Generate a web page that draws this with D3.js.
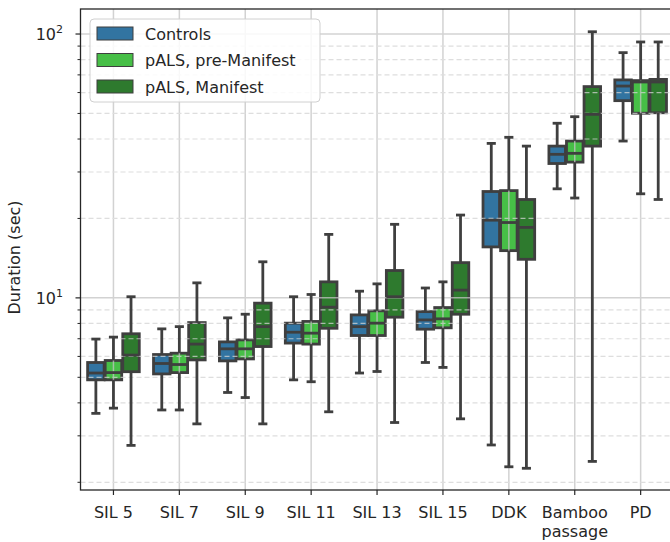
<!DOCTYPE html>
<meta charset="utf-8">
<script src="https://d3js.org/d3.v7.min.js"></script>
<style>
  body { margin: 0; background: #fff; }
  text { font-family: "DejaVu Sans", sans-serif; fill: #262626; }
</style>
<div id="chart"></div>
<script>
  // categories and groups
  const categories = ["SIL 5", "SIL 7", "SIL 9", "SIL 11", "SIL 13", "SIL 15", "DDK", "Bamboo passage", "PD"];
  const groups = ["Controls", "pALS, pre-Manifest", "pALS, Manifest"];
  const groupColors = ["#3274a1", "#47bf47", "#2e7a2e"];

  // box stats per category: [whisker low, q1, median, q3, whisker high]
  const controlsStats = [
    [3.65, 4.89, 5.19, 5.69, 6.98],
    [3.76, 5.15, 5.64, 6.10, 7.63],
    [4.38, 5.77, 6.41, 6.81, 8.40],
    [4.89, 6.74, 7.41, 8.02, 10.1],
    [5.19, 7.20, 7.78, 8.62, 10.6],
    [5.69, 7.61, 8.25, 8.87, 10.9],
    [2.77, 15.6, 19.7, 25.3, 38.5],
    [25.9, 32.3, 35.0, 37.6, 45.9],
    [39.3, 55.9, 63.5, 67.0, 85.0]
  ];
  const preManifestStats = [
    [3.82, 4.89, 5.21, 5.79, 7.10],
    [3.76, 5.21, 5.59, 6.17, 7.78],
    [4.19, 5.87, 6.41, 6.93, 8.67],
    [4.81, 6.68, 7.35, 8.14, 10.3],
    [5.26, 7.20, 8.02, 8.93, 11.3],
    [5.45, 7.70, 8.33, 9.19, 11.5],
    [2.29, 15.1, 19.3, 25.5, 40.6],
    [23.9, 32.7, 35.3, 39.3, 48.6],
    [24.8, 50.1, 65.8, 66.6, 93.3]
  ];
  const manifestStats = [
    [2.76, 5.25, 6.07, 7.31, 10.1],
    [3.33, 5.82, 6.68, 8.06, 11.4],
    [3.33, 6.54, 7.78, 9.55, 13.7],
    [3.70, 7.67, 9.22, 11.5, 17.4],
    [3.37, 8.45, 10.1, 12.7, 19.0],
    [3.48, 8.67, 10.7, 13.6, 20.6],
    [2.26, 14.0, 18.5, 23.6, 37.6],
    [2.40, 37.6, 49.6, 63.2, 102],
    [23.6, 50.3, 65.8, 67.3, 93.3]
  ];
  const allStats = [controlsStats, preManifestStats, manifestStats];

  const yDomain = [1.87, 124.4];
  const majorTicks = [10, 100];
  const minorTicks = [2, 3, 4, 5, 6, 7, 8, 9, 20, 30, 40, 50, 60, 70, 80, 90];

  const W = 670, H = 542;
  const pLeft = 80.5, pRight = 673.6, pTop = 9, pBottom = 490;
  const lineCol = "#3f3f3f";

  const svg = d3.select("#chart").append("svg")
    .attr("width", W).attr("height", H);

  const x = d3.scaleBand().domain(categories).range([pLeft, pRight]).padding(0);
  const y = d3.scaleLog().domain(yDomain).range([pBottom, pTop]);

  const step = x.bandwidth();
  const slot = step * 0.8 / 3;
  const boxW = slot * 0.94;
  const capW = boxW * 0.55;
  const cxOf = (gi, ci) => x(categories[ci]) + step / 2 + (gi - 1) * slot;

  // box faces (below grid, like matplotlib patches)
  const faces = svg.append("g");
  allStats.forEach(function (stats, gi) {
    stats.forEach(function (s, ci) {
      const cx = cxOf(gi, ci);
      faces.append("rect").attr("x", cx - boxW / 2).attr("width", boxW)
        .attr("y", y(s[3])).attr("height", y(s[1]) - y(s[3]))
        .attr("fill", groupColors[gi]).attr("stroke", lineCol).attr("stroke-width", 2.8);
    });
  });

  // grid
  const grid = svg.append("g").attr("opacity", 0.75);
  grid.selectAll(".vg").data(categories).join("line")
    .attr("x1", d => x(d) + step / 2).attr("x2", d => x(d) + step / 2)
    .attr("y1", pTop).attr("y2", pBottom)
    .attr("stroke", "#c4c4c4").attr("stroke-width", 1.5);
  grid.selectAll(".hg").data(majorTicks).join("line")
    .attr("x1", pLeft).attr("x2", pRight).attr("y1", d => y(d)).attr("y2", d => y(d))
    .attr("stroke", "#c4c4c4").attr("stroke-width", 1.5);
  grid.selectAll(".mg").data(minorTicks).join("line")
    .attr("x1", pLeft).attr("x2", pRight).attr("y1", d => y(d)).attr("y2", d => y(d))
    .attr("stroke", "#d4d4d4").attr("stroke-width", 1.2).attr("stroke-dasharray", "5,3");

  // whiskers, caps, medians (above grid)
  const lines = svg.append("g").attr("stroke", lineCol).attr("stroke-width", 2.8);
  allStats.forEach(function (stats, gi) {
    stats.forEach(function (s, ci) {
      const cx = cxOf(gi, ci);
      lines.append("line").attr("x1", cx).attr("x2", cx).attr("y1", y(s[0])).attr("y2", y(s[1]));
      lines.append("line").attr("x1", cx).attr("x2", cx).attr("y1", y(s[3])).attr("y2", y(s[4]));
      [s[0], s[4]].forEach(function (v) {
        lines.append("line").attr("x1", cx - capW / 2).attr("x2", cx + capW / 2)
          .attr("y1", y(v)).attr("y2", y(v));
      });
      lines.append("line").attr("x1", cx - boxW / 2).attr("x2", cx + boxW / 2)
        .attr("y1", y(s[2])).attr("y2", y(s[2]));
    });
  });

  // frame
  svg.append("rect").attr("x", pLeft).attr("y", pTop)
    .attr("width", pRight - pLeft).attr("height", pBottom - pTop)
    .attr("fill", "none").attr("stroke", "#262626").attr("stroke-width", 1.3);

  // y ticks
  svg.selectAll(".ymaj").data(majorTicks).join("line")
    .attr("x1", pLeft - 5).attr("x2", pLeft).attr("y1", d => y(d)).attr("y2", d => y(d))
    .attr("stroke", "#262626").attr("stroke-width", 1.2);
  svg.selectAll(".ymin").data(minorTicks).join("line")
    .attr("x1", pLeft - 3).attr("x2", pLeft).attr("y1", d => y(d)).attr("y2", d => y(d))
    .attr("stroke", "#262626").attr("stroke-width", 1);
  majorTicks.forEach(function (v) {
    const t = svg.append("text").attr("x", 63).attr("y", y(v) + 6)
      .attr("text-anchor", "end").style("font-size", "16px");
    t.append("tspan").text("10");
    t.append("tspan").attr("dy", -7).style("font-size", "11px").text(Math.round(Math.log10(v)));
  });

  // x ticks
  svg.selectAll(".xt").data(categories).join("line")
    .attr("x1", d => x(d) + step / 2).attr("x2", d => x(d) + step / 2)
    .attr("y1", pBottom).attr("y2", pBottom + 5)
    .attr("stroke", "#262626").attr("stroke-width", 1.2);
  categories.forEach(function (c) {
    const words = c === "Bamboo passage" ? ["Bamboo", "passage"] : [c];
    const t = svg.append("text").attr("text-anchor", "middle").style("font-size", "16px");
    words.forEach(function (w, i) {
      t.append("tspan").attr("x", x(c) + step / 2).attr("y", 518 + i * 19).text(w);
    });
  });

  // y label
  svg.append("text")
    .attr("transform", `translate(20,${(pTop + pBottom) / 2 + 8}) rotate(-90)`)
    .attr("text-anchor", "middle").style("font-size", "16px")
    .text("Duration (sec)");

  // legend
  const lg = svg.append("g");
  lg.append("rect").attr("x", 90).attr("y", 19).attr("width", 230).attr("height", 83).attr("rx", 4)
    .attr("fill", "white").attr("fill-opacity", 0.85).attr("stroke", "#d0d0d0");
  groups.forEach(function (name, i) {
    const cy = 33.5 + i * 26.5;
    lg.append("rect").attr("x", 97).attr("y", cy - 6.5).attr("width", 36).attr("height", 13)
      .attr("fill", groupColors[i]).attr("stroke", lineCol).attr("stroke-width", 1);
    lg.append("text").attr("x", 145).attr("y", cy + 6).style("font-size", "16px").text(name);
  });
</script>
